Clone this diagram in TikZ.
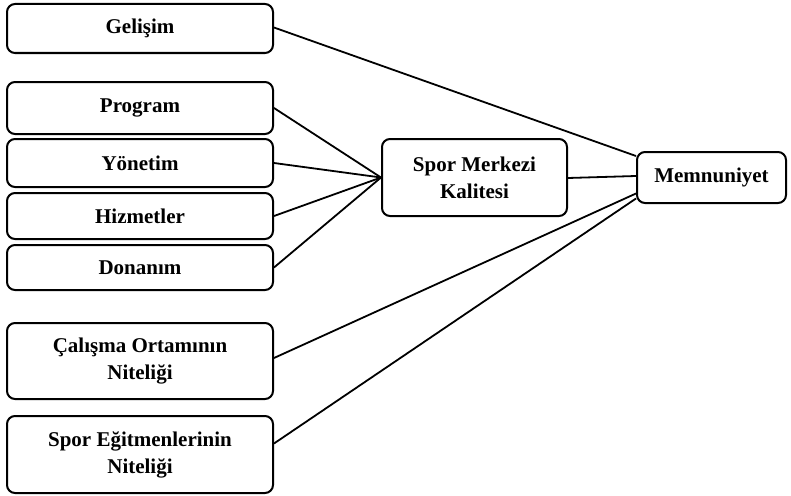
\documentclass[tikz,border=0pt]{standalone}
\usepackage{fontspec}
\setmainfont{Liberation Serif}
\begin{document}
\begin{tikzpicture}[x=1pt,y=-1pt,
  box/.style={draw,line width=2pt,rounded corners=8pt,inner sep=0pt,
    align=center,font=\fontsize{21}{27}\selectfont\bfseries},
  link/.style={line width=1.8pt}]
\useasboundingbox (0,0) rectangle (791,495);
% left column
\node[box,minimum width=266pt,minimum height=49pt] (gel) at (140,28.5) {Gelişim};
\node[box,minimum width=266pt,minimum height=52pt] (prog) at (140,108) {Program};
\node[box,minimum width=266pt,minimum height=48pt] (yon) at (140,163) {Yönetim};
\node[box,minimum width=266pt,minimum height=46pt] (hiz) at (140,216) {Hizmetler};
\node[box,minimum width=266pt,minimum height=45pt] (don) at (140,267.5) {Donanım};
\node[box,minimum width=266pt,minimum height=76pt] (cal) at (140,361) {Çalışma Ortamının\\Niteliği};
\node[box,minimum width=266pt,minimum height=77pt] (egt) at (140,454.5) {Spor Eğitmenlerinin\\Niteliği};
% middle and right
\node[box,minimum width=185pt,minimum height=77pt] (smk) at (474.5,177.5) {Spor Merkezi\\Kalitesi};
\node[box,minimum width=149pt,minimum height=51pt] (mem) at (711.5,177.5) {Memnuniyet};
% connectors
\draw[link] ([yshift=1pt]gel.east) -- ([yshift=-5pt]mem.north west);
\draw[link] (prog.east) -- (smk.west);
\draw[link] (yon.east) -- (smk.west);
\draw[link] (hiz.east) -- (smk.west);
\draw[link] (don.east) -- (smk.west);
\draw[link] ([yshift=-0.5pt]smk.east) -- ([yshift=1.5pt]mem.west);
\draw[link] ([yshift=3pt]cal.east) -- ([yshift=-16pt]mem.west);
\draw[link] ([yshift=11pt]egt.east) -- ([yshift=-21pt]mem.west);
\end{tikzpicture}
\end{document}
